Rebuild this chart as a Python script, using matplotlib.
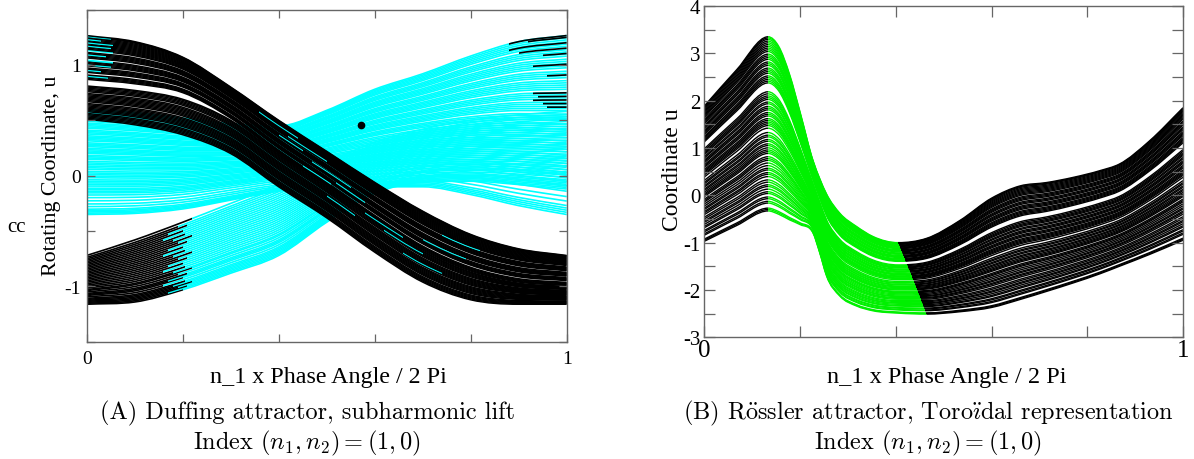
import numpy as np
import matplotlib.pyplot as plt
from matplotlib.path import Path
from matplotlib.patches import PathPatch, Rectangle

plt.rcParams['font.family'] = ['Liberation Serif', 'DejaVu Serif']
plt.rcParams['mathtext.fontset'] = 'cm'

# ---------------- (A) Duffing attractor, subharmonic lift ----------------
duff_x = [0.0, 0.1, 0.2, 0.3, 0.4, 0.5, 0.6, 0.7, 0.8, 0.9, 1.0]

# descending bundle (black), upper group and lower group edges
duff_hi_top = [1.265, 1.21, 1.07, 0.80, 0.50, 0.22, -0.06, -0.32, -0.53, -0.66, -0.72]
duff_hi_bot = [0.87, 0.83, 0.75, 0.52, 0.20, -0.09, -0.39, -0.67, -0.86, -0.96, -0.99]
duff_lo_top = [0.81, 0.77, 0.69, 0.50, 0.19, -0.10, -0.40, -0.68, -0.87, -0.97, -1.0]
duff_lo_bot = [0.51, 0.46, 0.37, 0.20, -0.10, -0.38, -0.69, -0.96, -1.12, -1.16, -1.16]
duff_hi_frac = [0.0, 0.025, 0.05, 0.075, 0.10, 0.16, 0.185, 0.21, 0.235, 0.26,
                0.31, 0.335, 0.36, 0.385, 0.41, 0.435, 0.49, 0.515, 0.54, 0.565,
                0.59, 0.615, 0.665, 0.69, 0.715, 0.74, 0.765, 0.79, 0.815, 0.84,
                0.865, 0.89, 0.915, 0.94, 0.965, 0.985, 1.0]
duff_lo_frac = [0.0, 0.035, 0.07, 0.105, 0.14, 0.175, 0.23, 0.265, 0.30, 0.335,
                0.37, 0.405, 0.44, 0.475, 0.53, 0.565, 0.60, 0.635, 0.67, 0.705,
                0.74, 0.775, 0.83, 0.865, 0.90, 0.935, 0.97, 1.0]
# upper-group curves that start cyan at the left edge: index into duff_hi_frac, end x
duff_tl_idx = [35, 32, 29, 26, 22, 19, 15, 11, 7, 3]
duff_tl_end = [0.05, 0.03, 0.055, 0.05, 0.055, 0.04, 0.055, 0.05, 0.03, 0.045]
# short cyan streaks inside the black bundle: fraction of the whole bundle, x range
duff_streak_frac = [0.92, 0.85, 0.78, 0.70, 0.62, 0.55, 0.47, 0.40, 0.33, 0.25, 0.6, 0.8]
duff_streak_x0 = [0.36, 0.42, 0.40, 0.47, 0.52, 0.45, 0.58, 0.62, 0.50, 0.66, 0.70, 0.74]
duff_streak_x1 = [0.44, 0.50, 0.45, 0.55, 0.58, 0.51, 0.66, 0.70, 0.56, 0.74, 0.79, 0.82]

# flat-then-rising bundle (cyan)
duff_flat_top = [0.60, 0.57, 0.52, 0.47, 0.45, 0.59, 0.78, 0.92, 1.08, 1.21, 1.265]
duff_flat_bot = [-0.35, -0.34, -0.30, -0.22, -0.14, -0.10, -0.10, -0.10, -0.17, -0.27, -0.35]
duff_flat_frac = [0.0, 0.012, 0.024, 0.036, 0.05, 0.075, 0.10, 0.13, 0.16, 0.185,
                  0.205, 0.22, 0.235, 0.25, 0.27, 0.285, 0.30, 0.315, 0.33, 0.35,
                  0.365, 0.38, 0.395, 0.41, 0.43, 0.445, 0.46, 0.475, 0.49, 0.505,
                  0.525, 0.537, 0.549, 0.561, 0.58, 0.592, 0.604, 0.616, 0.628, 0.645,
                  0.657, 0.669, 0.681, 0.70, 0.712, 0.724, 0.736, 0.748, 0.765, 0.777,
                  0.789, 0.801, 0.82, 0.832, 0.844, 0.856, 0.868, 0.885, 0.897, 0.909,
                  0.921, 0.94, 0.952, 0.964, 0.976, 0.988, 1.0]
# black ends of cyan curves (top right): fraction, start x
duff_tr_frac = [1.0, 0.99, 0.96, 0.93, 0.90, 0.84, 0.78, 0.68, 0.66, 0.64, 0.62, 0.60]
duff_tr_start = [0.88, 0.92, 0.88, 0.90, 0.95, 0.93, 0.96, 0.93, 0.94, 0.93, 0.95, 0.96]

# rising bundle from lower left (black first, then cyan)
duff_rise_top = [-0.72, -0.58, -0.42, -0.25, -0.08, 0.12, 0.30, 0.42, 0.50, 0.55, 0.58]
duff_rise_bot = [-1.16, -1.14, -1.03, -0.88, -0.72, -0.42, -0.16, -0.06, -0.05, -0.08, -0.12]
duff_rise_frac = [0.0, 0.02, 0.04, 0.06, 0.08, 0.1, 0.12, 0.15, 0.18, 0.2,
                  0.22, 0.25, 0.28, 0.3, 0.33, 0.36, 0.39, 0.42, 0.45, 0.48,
                  0.51, 0.54, 0.57, 0.6, 0.63, 0.66, 0.69, 0.72, 0.75, 0.78,
                  0.81, 0.84, 0.87, 0.9, 0.93, 0.96, 1.0]
duff_rise_cut = [0.20, 0.17, 0.21, 0.19, 0.22, 0.18, 0.205, 0.16]

duff_dot = (0.571, 0.46)

# ---------------- (B) Rossler attractor, toroidal ----------------
ross_x = [0.0, 0.067, 0.133, 0.155, 0.178, 0.2, 0.227, 0.241, 0.255, 0.283, 0.318,
          0.352, 0.405, 0.464, 0.534, 0.6, 0.66, 0.715, 0.771, 0.826, 0.867, 0.93, 1.0]
ross_top = [1.89, 2.65, 3.35, 3.15, 2.55, 1.75, 0.73, 0.35, 0.03, -0.38, -0.66,
            -0.87, -1.0, -0.91, -0.53, -0.06, 0.2, 0.27, 0.38, 0.52, 0.66, 1.15, 1.85]
ross_bot = [-0.97, -0.64, -0.33, -0.40, -0.52, -0.62, -0.80, -1.22, -1.70, -2.13, -2.34,
            -2.44, -2.49, -2.51, -2.46, -2.37, -2.2, -2.03, -1.85, -1.66, -1.5, -1.25, -0.95]
ross_frac = [0.0, 0.008, 0.016, 0.045, 0.055, 0.07, 0.08, 0.10, 0.11, 0.125,
             0.14, 0.15, 0.165, 0.178, 0.197, 0.21, 0.22, 0.235, 0.245, 0.26,
             0.275, 0.29, 0.30, 0.311, 0.33, 0.34, 0.35, 0.362, 0.375, 0.385,
             0.40, 0.41, 0.425, 0.435, 0.45, 0.475, 0.49, 0.50, 0.51, 0.52, 0.53, 0.545,
             0.555, 0.565, 0.58, 0.59, 0.60, 0.615, 0.625, 0.64, 0.65, 0.66,
             0.672, 0.684, 0.735, 0.745, 0.755, 0.765, 0.775, 0.79, 0.80, 0.81,
             0.82, 0.835, 0.845, 0.855, 0.87, 0.88, 0.89, 0.90, 0.915, 0.925,
             0.935, 0.945, 0.955, 0.965, 0.975, 0.985, 0.993, 1.0]
ross_peak = 0.133
ross_switch_bot, ross_switch_top = 0.464, 0.405

CYAN = '#00ffff'
GREEN = '#00f000'


def curve(lo, hi, f):
    lo = np.asarray(lo, float)
    hi = np.asarray(hi, float)
    return lo + f * (hi - lo)


def smooth_path(xs, us):
    # cubic Bezier through the knots (monotone-limited Hermite tangents)
    xs = np.asarray(xs, float)
    us = np.asarray(us, float)
    h = np.diff(xs)
    d = np.diff(us) / h
    m = np.empty_like(us)
    m[0], m[-1] = d[0], d[-1]
    for i in range(1, len(us) - 1):
        if d[i - 1] * d[i] <= 0:
            m[i] = 0.0
        else:
            m[i] = (d[i - 1] * h[i] + d[i] * h[i - 1]) / (h[i - 1] + h[i])
            lim = 3 * min(abs(d[i - 1]), abs(d[i]))
            m[i] = np.clip(m[i], -lim, lim)
    verts = [(xs[0], us[0])]
    codes = [Path.MOVETO]
    for i in range(len(xs) - 1):
        t = h[i] / 3
        verts += [(xs[i] + t, us[i] + m[i] * t),
                  (xs[i + 1] - t, us[i + 1] - m[i + 1] * t),
                  (xs[i + 1], us[i + 1])]
        codes += [Path.CURVE4] * 3
    return Path(verts, codes)


def piece(ax, xs, us, a, b, color, lw):
    if b <= a:
        return
    p = PathPatch(smooth_path(xs, us), fill=False, edgecolor=color, lw=lw,
                  capstyle='butt', joinstyle='round')
    ax.add_patch(p)
    if a > 0 or b < 1:
        p.set_clip_path(Rectangle((a, -10), b - a, 20, transform=ax.transData))


fig = plt.figure(figsize=(11.94, 4.6), dpi=100)
axA = fig.add_axes([0.0726, 0.2546, 0.402, 0.7225])
axB = fig.add_axes([0.590, 0.2646, 0.4008, 0.7202])

# ---- panel A
for i, f in enumerate(duff_flat_frac):
    u = curve(duff_flat_bot, duff_flat_top, f)
    piece(axA, duff_x, u, 0, 1, CYAN, 1.2)
for f, s in zip(duff_tr_frac, duff_tr_start):
    u = curve(duff_flat_bot, duff_flat_top, f)
    piece(axA, duff_x, u, s, 1, 'black', 1.2)
for i, f in enumerate(duff_rise_frac):
    u = curve(duff_rise_bot, duff_rise_top, f)
    cut = duff_rise_cut[i % len(duff_rise_cut)]
    piece(axA, duff_x, u, cut, 1, CYAN, 1.2)
    piece(axA, duff_x, u, 0, cut, 'black', 1.2)
for f in duff_lo_frac:
    piece(axA, duff_x, curve(duff_lo_bot, duff_lo_top, f), 0, 1, 'black', 1.1)
for i, f in enumerate(duff_hi_frac):
    u = curve(duff_hi_bot, duff_hi_top, f)
    start = duff_tl_end[duff_tl_idx.index(i)] if i in duff_tl_idx else 0
    piece(axA, duff_x, u, start, 1, 'black', 1.1)
    piece(axA, duff_x, u, 0, start, CYAN, 1.3)
for f, a, b in zip(duff_streak_frac, duff_streak_x0, duff_streak_x1):
    piece(axA, duff_x, curve(duff_lo_bot, duff_hi_top, f), a, b, CYAN, 0.7)
axA.plot(*duff_dot, 'o', color='black', ms=4.5)

# ---- panel B
for f in ross_frac:
    u = curve(ross_bot, ross_top, f)
    sw = ross_switch_bot + f * (ross_switch_top - ross_switch_bot)
    piece(axB, ross_x, u, 0, ross_peak, 'black', 1.0)
    piece(axB, ross_x, u, ross_peak, sw, GREEN, 1.0)
    piece(axB, ross_x, u, sw, 1, 'black', 1.0)

# ---- axes styling
for ax in (axA, axB):
    ax.set_xlim(0, 1)
    ax.set_xticks([0, 0.2, 0.4, 0.6, 0.8, 1.0])
    ax.set_xticklabels(['0', '', '', '', '', '1'])
    for sp in ax.spines.values():
        sp.set_color('#666666')
        sp.set_linewidth(1.0)
    ax.tick_params(direction='in', top=True, right=True, color='#666666',
                   length=6, width=0.9, labelsize=14)

axA.set_ylim(-1.5, 1.5)
axA.set_yticks([-1.5, -1, -0.5, 0, 0.5, 1, 1.5])
axA.set_yticklabels(['', '-1', '', '0', '', '1', ''])
axA.tick_params(axis='x', pad=6)
axA.tick_params(axis='y', pad=4)

axB.set_ylim(-3, 4)
axB.set_yticks(np.arange(-3, 4.01, 0.5))
axB.set_yticklabels(['-3', '', '-2', '', '-1', '', '0', '', '1', '', '2', '', '3', '', '4'])
axB.tick_params(length=8, labelsize=15)
axB.tick_params(axis='x', labelsize=18, pad=1)
axB.tick_params(axis='y', pad=3)

H = 460.0
W = 1194.0
fig.text(52 / W, 1 - 176 / H, 'Rotating Coordinate, u', rotation=90,
         ha='center', va='center', fontsize=15.8)
fig.text(17 / W, 1 - 228 / H, 'cc', ha='center', va='center', fontsize=15)
fig.text(328 / W, 1 - 378 / H, 'n_1 x Phase Angle / 2 Pi', ha='center', va='center', fontsize=17.3)
fig.text(673 / W, 1 - 170 / H, 'Coordinate u', rotation=90,
         ha='center', va='center', fontsize=17)
fig.text(947 / W, 1 - 378 / H, 'n_1 x Phase Angle / 2 Pi', ha='center', va='center', fontsize=17.5)

cap = dict(ha='center', va='center', fontsize=17.5, family=['cmr10', 'DejaVu Serif'])
fig.text(307 / W, 1 - 413 / H, '(A) Duffing attractor, subharmonic lift', **cap)
fig.text(307 / W, 1 - 443 / H, r'Index $(n_1, n_2) = (1, 0)$', **cap)
fig.text(928 / W, 1 - 413 / H,
         r'(B) R$\ddot{\mathrm{o}}$ssler attractor, Toro$\ddot{\imath}$dal representation', **cap)
fig.text(928 / W, 1 - 443 / H, r'Index $(n_1, n_2) = (1, 0)$', **cap)

fig.savefig('out.png', dpi=100)
